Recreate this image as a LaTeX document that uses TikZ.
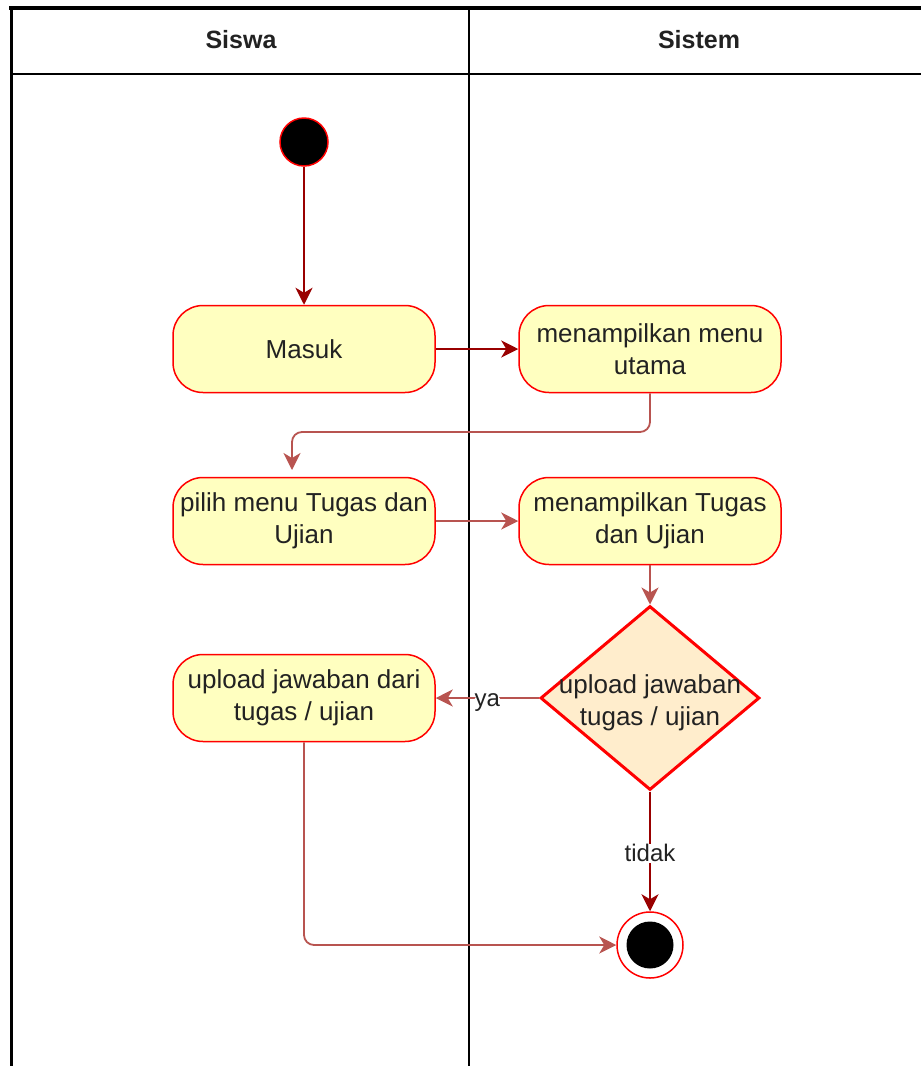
\documentclass[tikz,border=0pt]{standalone}
\usepackage{fontspec}
\setmainfont{Liberation Sans}
\usetikzlibrary{shapes.geometric,arrows.meta}
\definecolor{actfill}{HTML}{FFFFC0}
\definecolor{actline}{HTML}{FF0000}
\definecolor{darkflow}{HTML}{990000}
\definecolor{softflow}{HTML}{B85450}
\definecolor{decfill}{HTML}{FFEDCC}
\definecolor{inkgray}{HTML}{222222}
\begin{document}
\begin{tikzpicture}[x=1pt,y=-1pt,
  lbl/.style={font=\fontsize{26}{32}\selectfont, text=inkgray, align=center},
  activity/.style={lbl, draw=actline, fill=actfill, line width=1.5pt,
    rectangle, rounded corners=30pt, minimum width=262pt, minimum height=87pt, inner sep=0pt},
  lanehead/.style={font=\fontsize{25}{30}\selectfont\bfseries, text=inkgray},
  flowdark/.style={draw=darkflow, line width=1.8pt,
    -{Stealth[length=17pt,width=17pt,inset=5pt]}},
  flowsoft/.style={draw=softflow, line width=1.8pt, rounded corners=10pt,
    -{Stealth[length=17pt,width=17pt,inset=5pt]}},
  guard/.style={lbl, font=\fontsize{24}{30}\selectfont, fill=white, inner sep=1pt}
]
\useasboundingbox (0,0) rectangle (921,1066);

% swimlane frame
\begin{scope}
\clip (0,0) rectangle (921,1066);
\draw[line width=4pt] (9,8) -- (930,8);
\draw[line width=3pt] (11,6) -- (11,1080);
\draw[line width=2pt] (11,74) -- (930,74);
\draw[line width=2pt] (469,8) -- (469,1080);
\end{scope}
\node[lanehead] (laneA) at (241,40) {Siswa};
\node[lanehead] (laneB) at (699,40) {Sistem};

% nodes
\node[circle, fill=black, draw=actline, line width=1.5pt, minimum size=48pt, inner sep=0pt] (start) at (304,142) {};
\node[activity] (masuk) at (304,349) {Masuk};
\node[activity] (menu) at (650,349) {menampilkan menu\\utama};
\node[activity] (pilih) at (304,521) {pilih menu Tugas dan\\Ujian};
\node[activity] (tampil) at (650,521) {menampilkan Tugas\\dan Ujian};
\node[activity] (upload) at (304,698) {upload jawaban dari\\tugas / ujian};
\node[diamond, draw=actline, fill=decfill, line width=3pt, minimum width=219pt, minimum height=184pt, inner sep=0pt] (dec) at (650,698) {};
\node[lbl] (dectext) at ([yshift=-5pt]dec.center) {upload jawaban\\tugas / ujian};
\node[circle, draw=actline, fill=white, line width=1.5pt, minimum size=66pt, inner sep=0pt] (stop) at (650,945) {};
\node[circle, fill=black, minimum size=47pt, inner sep=0pt] (stopdot) at (stop.center) {};

% helper points for the routed flows
\coordinate (bendA) at (292,432);
\coordinate (tipA) at (292,470);

% flows
\draw[flowdark] (start) -- (masuk);
\draw[flowdark] (masuk) -- (menu);
\draw[flowsoft] (menu.south) |- (bendA) -- (tipA);
\draw[flowsoft] (pilih) -- (tampil);
\draw[flowsoft] (tampil) -- (dec.north);
\draw[flowsoft] (dec.west) -- node[guard, pos=0.5, yshift=-5pt] {ya} (upload.east);
\draw[flowdark] (dec.south) -- node[guard, pos=0.5, yshift=-2pt] {tidak} (stop.north);
\draw[flowsoft] (upload.south) |- (stop.west);
\end{tikzpicture}
\end{document}
